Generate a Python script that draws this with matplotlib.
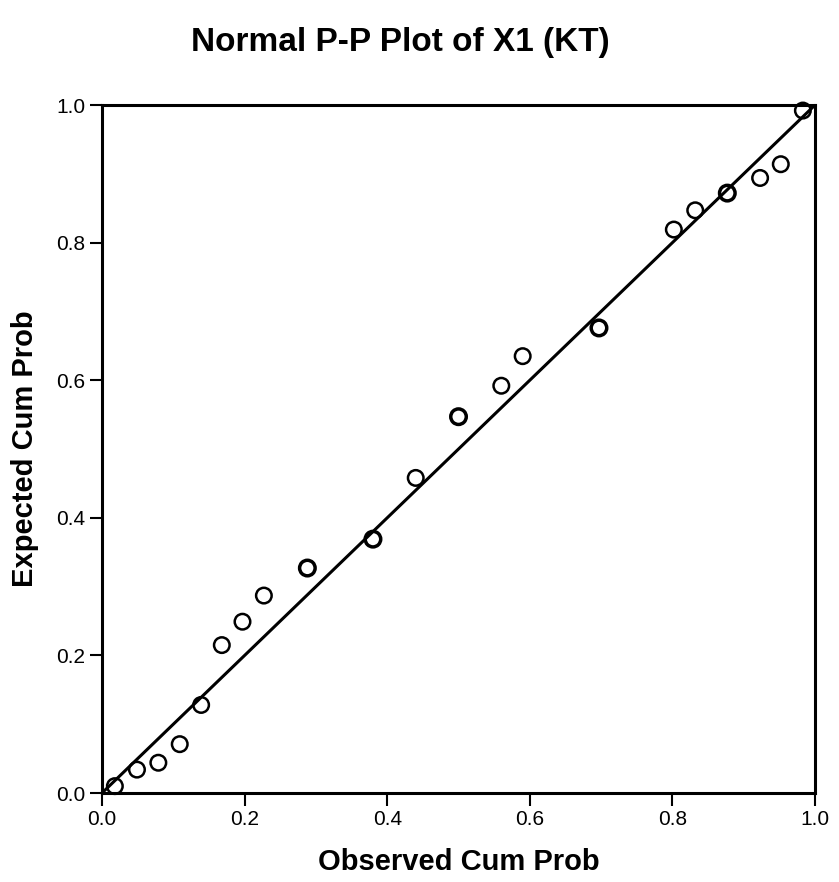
import matplotlib.pyplot as plt

# P-P plot values
observed = [0.018, 0.049, 0.079, 0.109, 0.139, 0.168, 0.197, 0.227, 0.288, 0.380,
            0.440, 0.500, 0.560, 0.590, 0.697, 0.802, 0.832, 0.877, 0.923, 0.952, 0.983]
expected = [0.010, 0.034, 0.044, 0.071, 0.128, 0.215, 0.249, 0.287, 0.327, 0.369,
            0.458, 0.547, 0.592, 0.635, 0.676, 0.819, 0.847, 0.872, 0.894, 0.914, 0.992]
# points that look heavier in the scan (tied values)
tied = [0.288, 0.380, 0.500, 0.697, 0.877]
ticks = [0.0, 0.2, 0.4, 0.6, 0.8, 1.0]

plt.rcParams['font.family'] = ['Liberation Sans', 'DejaVu Sans']

fig = plt.figure(figsize=(8.39, 8.82), dpi=100)
ax = fig.add_axes([0.1216, 0.1009, 0.8498, 0.7800])

# reference line
ax.plot([0, 1], [0, 1], color='black', lw=2.2, zorder=2)

# observed points
widths = [2.5 if x in tied else 1.8 for x in observed]
ax.scatter(observed, expected, s=125, facecolors='none', edgecolors='black',
           linewidths=widths, zorder=3, clip_on=False)

ax.set_xlim(0, 1)
ax.set_ylim(0, 1)
ax.set_xticks(ticks)
ax.set_yticks(ticks)
ax.set_xticklabels([f'{t:.1f}' for t in ticks], fontsize=15)
ax.set_yticklabels([f'{t:.1f}' for t in ticks], fontsize=15)
ax.tick_params(direction='out', length=9, width=1.5, pad=3)

for s in ax.spines.values():
    s.set_linewidth(2.2)

ax.set_xlabel('Observed Cum Prob', fontsize=21, fontweight='bold', labelpad=14)
ax.set_ylabel('Expected Cum Prob', fontsize=21, fontweight='bold', labelpad=12)
fig.text(0.477, 0.952, 'Normal P-P Plot of X1 (KT)', fontsize=24,
         fontweight='bold', ha='center', va='center')

fig.savefig('out.png', dpi=100)
